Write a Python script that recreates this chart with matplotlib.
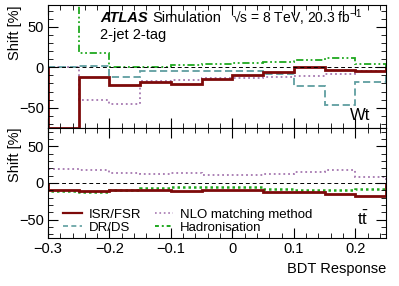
import numpy as np
import matplotlib
matplotlib.use('Agg')
import matplotlib.pyplot as plt
from matplotlib.ticker import MultipleLocator

plt.rcParams['font.family'] = ['Liberation Sans', 'DejaVu Sans']
plt.rcParams['mathtext.default'] = 'regular'

# BDT bin edges
edges = [-0.3, -0.25, -0.2, -0.15, -0.1, -0.05, 0.0, 0.05, 0.1, 0.15, 0.2, 0.25]

# Wt shifts [%]
wt_isr = [-75, -11.6, -22.3, -18.5, -21.0, -14.5, -9.1, -5.4, 0.4, -2.8, -4.3]
wt_drds = [0, 1.8, -11.6, -4.1, -4.2, -4.2, -4.0, -8.0, -23.0, -46.6, -18.5]
wt_nlo = [0, -40.4, -45.7, -16.5, -15.7, -13.2, -12.8, -12.5, -10.3, -8.7, -4.3]
wt_had = [76.5, 18.3, 0.2, 0.8, 2.9, 4.1, 5.8, 6.5, 9.0, 11.0, 3.8]

# ttbar shifts [%]
tt_isr = [-9.0, -11.3, -10.0, -9.0, -11.3, -9.0, -9.9, -11.8, -12.6, -14.4, -18.0]
tt_nlo = [18.9, 18.0, 14.3, 11.6, 13.0, 11.2, 10.3, 11.6, 15.3, 18.4, 8.1]
tt_had = [-10.8, -12.6, -9.0, -6.8, -5.9, -5.0, -5.9, -8.5, -9.5, -9.5, -7.7]

labels = ['ISR/FSR', 'DR/DS', 'NLO matching method', 'Hadronisation']

c_isr = '#7d0a0a'
c_drds = '#5f9ea0'
c_nlo = '#a577b0'
c_had = '#1fa81f'
had_ls = (0, (4, 1.5, 1, 1.5, 1, 1.5))

W, H = 399, 286
fig = plt.figure(figsize=(W / 100, H / 100), dpi=100)
x0, x1 = 48 / W, 386 / W
ax1 = fig.add_axes([x0, 1 - 128 / H, x1 - x0, 123 / H])
ax2 = fig.add_axes([x0, 1 - 238 / H, x1 - x0, 110 / H], sharex=ax1)

ax1.stairs(wt_nlo, edges, color=c_nlo, lw=1.3, ls=':')
ax1.stairs(wt_drds, edges, color=c_drds, lw=1.3, ls=(0, (4, 2)))
ax1.stairs(wt_had, edges, color=c_had, lw=1.3, ls=had_ls)
ax1.stairs(wt_isr, edges, color=c_isr, lw=2)
ax1.axhline(0, color='black', lw=0.7, ls=(0, (4, 3)))

ax2.stairs(tt_nlo, edges, color=c_nlo, lw=1.3, ls=':')
ax2.stairs(tt_had, edges, color=c_had, lw=1.8, ls=(0, (1, 1.2)))
ax2.stairs(tt_isr, edges, color=c_isr, lw=2)
ax2.axhline(0, color='black', lw=0.7, ls=(0, (4, 3)))

ax1.set_xlim(-0.3, 0.25)
ax1.set_ylim(-75, 77)
ax2.set_ylim(-75, 75)

for ax in (ax1, ax2):
    ax.yaxis.set_major_locator(MultipleLocator(50))
    ax.yaxis.set_minor_locator(MultipleLocator(10))
    ax.xaxis.set_major_locator(MultipleLocator(0.1))
    ax.xaxis.set_minor_locator(MultipleLocator(0.02))
    ax.tick_params(which='both', direction='in', top=True, right=True,
                   labelsize=10.5, pad=3)
    ax.tick_params(which='major', length=7)
    ax.tick_params(which='minor', length=3.5)
    ax.set_ylabel('Shift [%]', fontsize=10.5, loc='top')
    ax.yaxis.set_label_coords(-0.078, 1.0)
ax1.tick_params(labelbottom=False)
ax2.xaxis.set_major_formatter(plt.FuncFormatter(
    lambda v, p: '0' if abs(v) < 1e-9 else f'{v:.1f}'.replace('-', '\u2212')))
ax2.set_xlabel('BDT Response', fontsize=10.5, loc='right')

fig.text(100 / W, 1 - 18 / H, 'ATLAS', fontsize=10.5, fontweight='bold',
         fontstyle='italic', va='center')
fig.text(152 / W, 1 - 18 / H, 'Simulation', fontsize=10.5, va='center')
fig.text(232 / W, 1 - 18 / H, '\u221as = 8 TeV, 20.3 fb$^{-1}$', fontsize=10,
         va='center')
fig.text(100 / W, 1 - 35 / H, '2-jet 2-tag', fontsize=10.5, va='center')
ax1.text(0.955, 0.1, 'Wt', transform=ax1.transAxes, fontsize=12,
         ha='right', va='center')
ax2.text(0.948, 0.17, r't$\bar{t}$', transform=ax2.transAxes, fontsize=12,
         ha='right', va='center')

handles = [
    plt.Line2D([], [], color=c_isr, lw=1.6),
    plt.Line2D([], [], color=c_drds, lw=1.2, ls=(0, (3, 2))),
    plt.Line2D([], [], color=c_nlo, lw=1.2, ls=':'),
    plt.Line2D([], [], color=c_had, lw=1.4, ls=(0, (2, 1.5, 1, 1.5))),
]
ax2.legend(handles, labels, ncol=2, loc='lower left', frameon=False,
           bbox_to_anchor=(0.045, 0.04), borderaxespad=0, borderpad=0,
           fontsize=9.5, handlelength=1.4, handletextpad=0.55,
           columnspacing=1.0, labelspacing=0.05)

fig.savefig('out.png', dpi=100)
